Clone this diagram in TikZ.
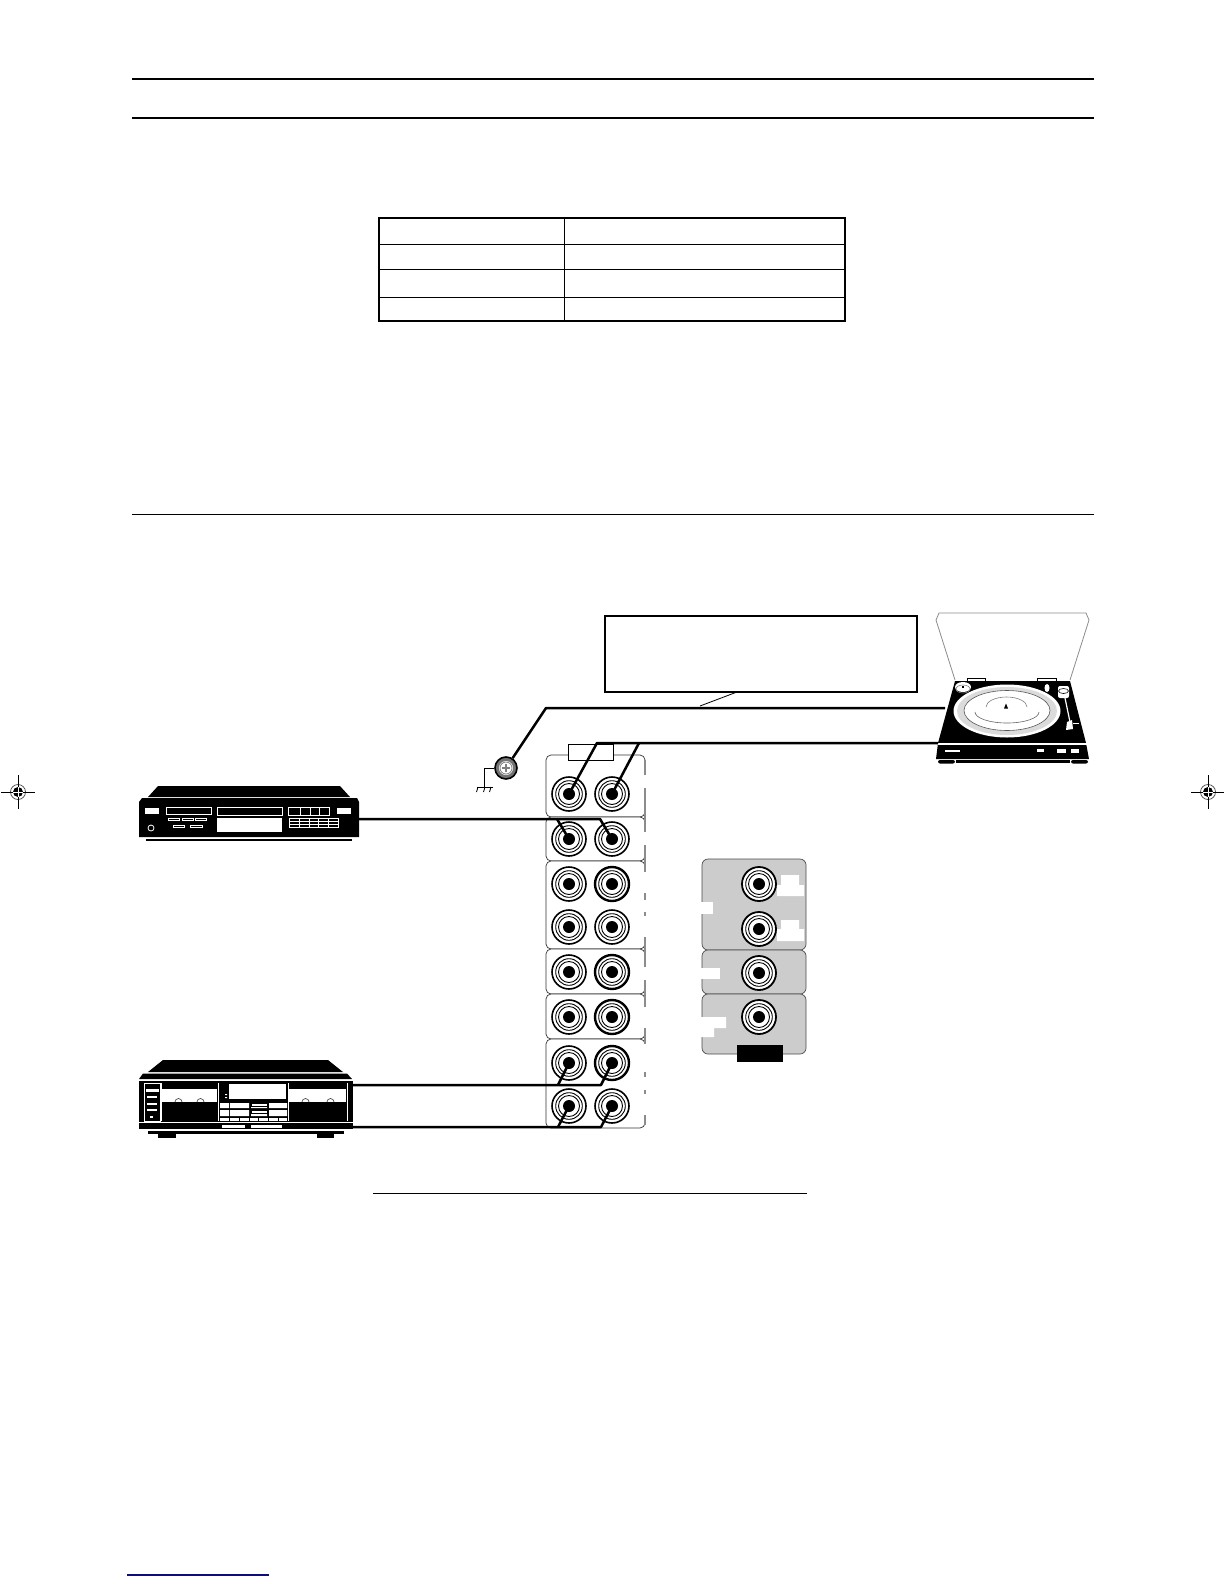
\documentclass[tikz,border=0pt]{standalone}
\usetikzlibrary{calc}
\definecolor{panelgray}{gray}{0.8}
\definecolor{edgegray}{gray}{0.55}
\definecolor{footnavy}{rgb}{0.05,0.05,0.5}
\tikzset{
  rulethick/.style={line width=1pt,black},
  rulethin/.style={line width=0.5pt,black},
  boxthick/.style={draw=black,line width=1.1pt,fill=white},
  cable/.style={line width=1.25pt,black,line join=round},
  panelbox/.style={draw=black!80,line width=0.35pt,rounded corners=2.5pt,fill=white},
  graybox/.style={draw=black!70,line width=0.35pt,rounded corners=3pt,fill=panelgray},
  jack/.style={circle,draw=black,line width=#1,fill=white,minimum size=17pt,inner sep=0pt},
  jack/.default=0.8pt,
  wf/.style={fill=white,draw=none},
  wo/.style={draw=white,line width=0.45pt},
  regmark/.style={line width=0.45pt,black},
  device/.style={inner sep=0pt,draw=none}
}
\newcommand{\jackat}[4]{% name, x, y, outer width
  \node[jack=#4] (#1) at (#2,#3) {};
  \draw[line width=0.45pt] (#1.center) circle[radius=13.3];
  \draw[line width=0.45pt] (#1.center) circle[radius=10.5];
  \fill[black] (#1.center) circle[radius=6];
}
\newcommand{\regat}[3]{% name, x, y
  \coordinate (#1) at (#2,#3);
  \draw[line width=0.4pt,black!65] (#1) circle[radius=7.5];
  \fill[black] (#1) circle[radius=5];
  \draw[regmark] ($(#1)+(-17,0)$) -- ($(#1)+(17,0)$);
  \draw[regmark] ($(#1)+(0,-17)$) -- ($(#1)+(0,17)$);
  \draw[white,line width=0.3pt] ($(#1)+(-5,0)$) -- ($(#1)+(5,0)$);
  \draw[white,line width=0.3pt] ($(#1)+(0,-5)$) -- ($(#1)+(0,5)$);
}
\begin{document}
\begin{tikzpicture}[x=0.5pt,y=-0.5pt]
\useasboundingbox (0,0) rectangle (1224,1584);
\fill[white] (0,0) rectangle (1224,1584);

% page rules
\draw[rulethick] (132,79) -- (1094,79);
\draw[rulethick] (132,118) -- (1094,118);
\draw[rulethin] (132,514) -- (1094,514);
\draw[rulethin] (373,1193) -- (807,1193);
\draw[line width=0.6pt,footnavy] (127,1575) -- (269,1575);

% table
\draw[line width=0.5pt] (379,244) -- (845,244) (379,269) -- (845,269) (379,297) -- (845,297) (564,218) -- (564,321);
\draw[line width=1.1pt] (379,218) rectangle (845,321);

% registration marks
\regat{regL}{18}{792}
\regat{regR}{1208}{792}

% callout box
\node[boxthick,minimum width=156pt,minimum height=38pt,inner sep=0pt] (callout) at (761,654) {};
\coordinate (calloutfoot) at (737,692);
\coordinate (calloutcable) at (700,706);
\draw[line width=0.4pt] (calloutfoot) -- (calloutcable);

% turntable
\node[device,minimum width=76pt,minimum height=39pt] (turntable) at (1012.5,720) {};
\draw[edgegray,line width=0.4pt,fill=white] (955,680) -- (936,620) -- (939,613) -- (1086,613) -- (1089,620) -- (1070,680);
\draw[black,line width=0.35pt,fill=white] (967,678) rectangle (985,682);
\draw[black,line width=0.35pt,fill=white] (1037,678) rectangle (1056,682);
\fill[black] (955,681) -- (1070,681) -- (1086,743) -- (1089,759) -- (936,759) -- (938,743) -- cycle;
\fill[white] (938,743) rectangle (1087,745);
\fill[black,rounded corners=1pt] (938,760) rectangle (955,763.5);
\fill[black] (956,760) rectangle (1070,763);
\fill[black,rounded corners=1pt] (1071,760) rectangle (1088,763.5);
\fill[white] (1007,711) ellipse[x radius=53.5,y radius=26.5];
\fill[black!14] (1007,711) ellipse[x radius=50,y radius=24];
\fill[white] (1007,710.5) ellipse[x radius=43,y radius=20];
\draw[black!65,line width=0.3pt] (1007,710.5) ellipse[x radius=43,y radius=20];
\draw[black!60,line width=0.3pt] (975,712) arc[start angle=180,end angle=0,x radius=32,y radius=11];
\draw[black!50,line width=0.3pt] (986,707) arc[start angle=180,end angle=360,x radius=20.5,y radius=10];
\fill[black] (1004,708.5) -- (1006,703.5) -- (1008,708.5) -- cycle;
\fill[white] (963,687) ellipse[x radius=8,y radius=5];
\draw[gray,line width=0.3pt] (963,689) ellipse[x radius=7,y radius=4];
\fill[black] (962,686) rectangle (964,688);
\fill[white] (1047,688) ellipse[x radius=2.5,y radius=4];
\fill[white,rounded corners=1pt] (1058,686) rectangle (1069,698);
\draw[black,line width=0.3pt] (1063.5,691) ellipse[x radius=5,y radius=2.5];
\draw[white,line width=0.6pt] (1065,698) -- (1070,722);
\fill[white] (1067,722) -- (1072,720) -- (1073,729) -- (1066,730) -- cycle;
\draw[white,line width=0.5pt] (1073,723) -- (1079,723);
\fill[white] (945,750) rectangle (960,752);
\fill[white] (1037,749) rectangle (1044,752);
\fill[white] (1057,749) rectangle (1066,753);
\fill[white] (1071,749) rectangle (1079,753);

% CD player
\node[device,minimum width=110pt,minimum height=27.5pt] (cdplayer) at (249,813) {};
\fill[black] (158,786) -- (340,786) -- (350,797) -- (148,797) -- cycle;
\fill[black] (142,798) -- (357,798) -- (359,802) -- (359,837) -- (139,837) -- (139,802) -- cycle;
\fill[black] (146,838.5) rectangle (352,841);
\fill[wf] (145,808) rectangle (159,814);
\fill[wf] (337,808) rectangle (351,814);
\draw[wo] (166,807) rectangle (211,814);
\draw[wo] (217,807) rectangle (282,815);
\draw[wo] (288,807) rectangle (329,815) (300,807) -- (300,815) (310,807) -- (310,815) (319,807) -- (319,815);
\draw[wo,line width=0.35pt] (168,818) rectangle (179,820) (182,818) rectangle (193,820) (195,818) rectangle (206,820) (173,825) rectangle (184,827) (190,825) rectangle (202,827);
\fill[wf] (217,818) rectangle (282,832);
\draw[wo,line width=0.35pt] (289,818) rectangle (338,827) (289,821) -- (338,821) (289,824) -- (338,824)
  (299,818) -- (299,827) (309,818) -- (309,827) (318,818) -- (318,827) (328,818) -- (328,827);
\draw[white,line width=0.4pt] (151,828) circle[radius=3];

% tape deck
\node[device,minimum width=107pt,minimum height=38pt] (tapedeck) at (246,1097) {};
\fill[black] (163,1060) -- (328,1060) -- (343,1072) -- (148,1072) -- cycle;
\fill[black] (143,1073.5) -- (347,1073.5) -- (352,1079) -- (139,1079) -- cycle;
\fill[black] (139,1081) rectangle (353,1129);
\fill[black] (148,1130.5) rectangle (344,1134);
\fill[black] (158,1134) rectangle (176,1137.5);
\fill[black] (317,1134) rectangle (334,1137.5);
\draw[wo] (144,1083) rectangle (160,1121);
\fill[wf] (146,1089) rectangle (159,1092);
\fill[wf] (147,1096) rectangle (157,1098);
\fill[wf] (147,1103) rectangle (157,1105);
\fill[wf] (147,1109) rectangle (157,1111);
\fill[wf] (150,1116) rectangle (153,1118);
\draw[wo] (161,1083) -- (161,1121) (218,1083) -- (218,1121) (288,1083) -- (288,1121) (347,1083) -- (347,1121) (139,1122) -- (353,1122);
\fill[wf] (161,1089) rectangle (217,1102);
\fill[wf] (289,1089) rectangle (346,1102);
\draw[black!70,line width=0.35pt] (175,1102) arc[start angle=180,end angle=360,radius=3.5] (197,1102) arc[start angle=180,end angle=360,radius=3.5]
  (302,1102) arc[start angle=180,end angle=360,radius=3.5] (327,1102) arc[start angle=180,end angle=360,radius=3.5];
\fill[wf] (229,1084) rectangle (286,1099);
\fill[wf] (225,1094) rectangle (227,1095) (225,1097) rectangle (227,1098);
\foreach \ya/\yb in {1103/1108,1110/1116}{
  \fill[wf] (220,\ya) rectangle (229,\yb) (230,\ya) rectangle (249,\yb) (251,\ya) rectangle (267,\yb) (269,\ya) rectangle (287,\yb);
}
\draw[black,line width=0.3pt] (251,1103) rectangle (267,1106) (251,1110) rectangle (267,1113);
\foreach \xa/\xb in {220/229,230/239,240/249,250/258,259/268,269/278,279/287}{
  \fill[wf] (\xa,1118) rectangle (\xb,1121);
}
\fill[wf] (222,1125) rectangle (245,1128);
\fill[wf] (251,1125) rectangle (282,1128);

% input panels
\node[panelbox,minimum width=49.5pt,minimum height=31pt,inner sep=0pt] (panelA) at (595.5,786) {};
\node[panelbox,minimum width=49.5pt,minimum height=22pt,inner sep=0pt] (panelB) at (595.5,839) {};
\node[panelbox,minimum width=49.5pt,minimum height=44pt,inner sep=0pt] (panelC) at (595.5,905) {};
\node[panelbox,minimum width=49.5pt,minimum height=22.5pt,inner sep=0pt] (panelD) at (595.5,971.5) {};
\node[panelbox,minimum width=49.5pt,minimum height=22.5pt,inner sep=0pt] (panelE) at (595.5,1016.5) {};
\node[panelbox,minimum width=49.5pt,minimum height=44.5pt,inner sep=0pt] (panelF) at (595.5,1083.5) {};
% right edge: gapped
\draw[edgegray,line width=0.7pt] (645,760) -- (645,1125);
\foreach \ya/\yb in {775/788,832/845,872/893,900/912,916/937,967/980,1007/1028,1044/1072,1077/1090,1094/1115}{
  \fill[white] (643,\ya) rectangle (647,\yb);
}
\node[draw=black,fill=white,line width=0.35pt,minimum width=22.5pt,minimum height=8pt,inner sep=0pt] (phonolabel) at (590.5,752) {};

% jacks
\jackat{ja}{569}{794}{0.8pt}
\jackat{jb}{612}{794}{0.8pt}
\jackat{jc}{569}{839}{0.8pt}
\jackat{jd}{612}{839}{0.8pt}
\jackat{je}{569}{884}{0.8pt}
\jackat{jf}{612}{884}{1.2pt}
\jackat{jg}{569}{927}{0.8pt}
\jackat{jh}{612}{927}{0.8pt}
\jackat{ji}{569}{972}{0.8pt}
\jackat{jj}{612}{972}{1.2pt}
\jackat{jk}{569}{1017}{0.8pt}
\jackat{jl}{612}{1017}{1.2pt}
\jackat{jm}{569}{1063}{0.8pt}
\jackat{jn}{612}{1063}{1.2pt}
\jackat{jo}{569}{1106}{0.8pt}
\jackat{jp}{612}{1106}{0.8pt}

% video panel
\node[graybox,minimum width=52pt,minimum height=45.5pt,inner sep=0pt] (vidA) at (754,904.5) {};
\node[graybox,minimum width=52pt,minimum height=22pt,inner sep=0pt] (vidB) at (754,972) {};
\node[graybox,minimum width=52pt,minimum height=30pt,inner sep=0pt] (vidC) at (754,1024) {};
\jackat{va}{759}{884}{0.9pt}
\jackat{vb}{759}{929}{0.9pt}
\jackat{vc}{759}{973}{0.9pt}
\jackat{vd}{759}{1017}{0.9pt}
\fill[white] (781,875) rectangle (799,885) (777,885) rectangle (804,896);
\fill[white] (781,920) rectangle (799,929) (777,929) rectangle (804,941);
\fill[white] (700,902) rectangle (713,914);
\fill[white] (700,968) rectangle (720,979);
\fill[white] (700,1017) rectangle (726,1028) (700,1028) rectangle (714,1037);
\fill[black] (737,1045) rectangle (783,1062);

% ground screw
\node[circle,draw=black,line width=0.8pt,fill=black!55,minimum size=11pt,inner sep=0pt] (screw) at (506,768) {};
\coordinate (gndcorner) at (484,768);
\coordinate (gndfoot) at (484,787);
\coordinate (gndL) at (477,787);
\coordinate (gndR) at (493,787);
\draw[line width=0.4pt] (screw.west) -- (gndcorner) -- (gndfoot);
\draw[line width=0.5pt] (gndL) -- (gndR);
\foreach \dx in {478,485,491}{\draw[line width=0.4pt] (\dx,787) -- (\dx-1.5,792);}

% cables
\coordinate (gndbend) at (546,708);
\coordinate (ttupper) at (945,708);
\coordinate (ttlower) at (938,743);
\coordinate (phonoL) at (597,743);
\coordinate (phonoR) at (639,743);
\coordinate (cdout) at (359,819);
\coordinate (cdL) at (557,819);
\coordinate (cdR) at (600,819);
\coordinate (tapeUout) at (353,1085);
\coordinate (tapeUL) at (558,1085);
\coordinate (tapeUR) at (601,1085);
\coordinate (tapeLout) at (353,1127);
\coordinate (tapeLL) at (558,1127);
\coordinate (tapeLR) at (601,1127);
\draw[cable] (screw) -- (gndbend) -- (ttupper);
\draw[cable] (ttlower) -- (phonoL) -- (ja.center);
\draw[cable] (phonoR) -- (jb.center);
\draw[cable] (cdout) -- (cdR) -- (jd.center);
\draw[cable] (cdL) -- (jc.center);
\draw[cable] (tapeUout) -- (tapeUR) -- (jn.center);
\draw[cable] (tapeUL) -- (jm.center);
\draw[cable] (tapeLout) -- (tapeLR) -- (jp.center);
\draw[cable] (tapeLL) -- (jo.center);
% screw face
\fill[white] (screw.center) circle[radius=7];
\draw[gray,line width=0.4pt] (screw.center) circle[radius=6];
\draw[gray,line width=0.8pt] ($(screw.center)+(-4,0)$) -- ($(screw.center)+(4,0)$) ($(screw.center)+(0,-4)$) -- ($(screw.center)+(0,4)$);
\end{tikzpicture}
\end{document}
